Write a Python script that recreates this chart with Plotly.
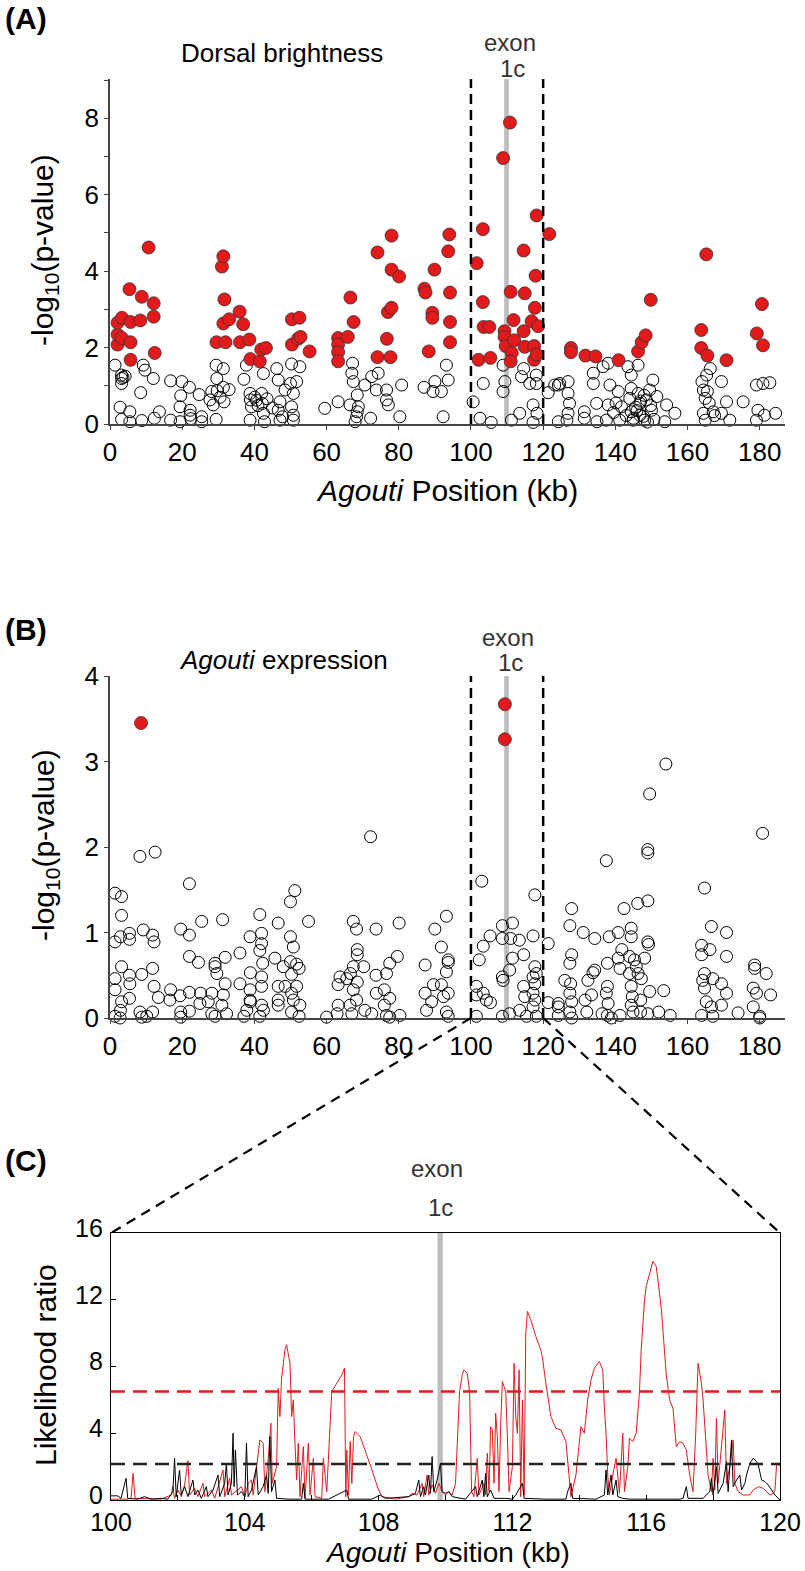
import plotly.graph_objects as go

# ---- panel A: dorsal brightness association (-log10 p) ----
a_red_x = [2.1, 2.1, 2.1, 3.3, 3.3, 5.7, 5.7, 5.4, 5.7, 8.4, 8.8, 10.7, 12.1, 12.1, 12.4,
           29.5, 31.0, 31.4, 31.7, 31.4, 32.0, 33.0, 35.9, 36.9, 36.0, 38.6, 38.9, 41.5, 41.9, 43.2,
           50.4, 50.4, 52.1, 52.5, 52.8, 55.3, 63.2, 63.2, 63.2, 63.2, 65.9, 66.6, 67.5,
           74.1, 74.1, 76.7, 77.0, 78.0, 78.0, 78.0, 77.7, 80.1, 87.1, 87.4, 89.3, 89.3, 88.3, 89.9,
           93.7, 94.0, 94.2, 94.2, 94.2, 101.6, 102.1, 103.3, 103.3, 103.5, 105.1, 105.4,
           108.9, 110.8, 109.3, 109.3, 109.6, 111.0, 111.3, 111.0, 111.8, 112.0,
           114.6, 114.9, 114.6, 114.9, 116.8, 117.5, 117.5, 117.7, 117.9, 118.2, 118.6, 118.2, 121.7,
           127.7, 127.7, 131.7, 134.5, 140.9, 146.3, 147.3, 148.4, 149.8,
           163.8, 163.8, 165.2, 165.5, 170.8, 179.2, 180.6, 180.9]
a_red_y = [2.08, 2.34, 2.65, 2.25, 2.78, 2.14, 2.67, 3.53, 1.68, 2.71, 3.33, 4.62, 3.16, 2.81, 1.86,
           2.14, 4.12, 4.39, 3.26, 2.63, 2.14, 2.74, 2.94, 2.61, 2.14, 2.21, 1.70, 1.64, 1.95, 1.99,
           2.74, 2.08, 2.23, 2.78, 2.28, 1.90, 2.25, 2.08, 1.88, 1.64, 2.28, 3.31, 2.67,
           4.49, 1.75, 2.23, 2.93, 3.04, 4.04, 4.93, 1.75, 3.86, 3.54, 3.44, 2.91, 2.78, 1.90, 4.04,
           4.52, 4.96, 3.44, 2.67, 2.14, 4.21, 1.68, 5.10, 3.19, 2.54, 2.54, 1.73,
           6.96, 7.89, 2.43, 2.28, 2.04, 3.46, 1.86, 1.64, 2.72, 2.19,
           4.54, 3.42, 2.43, 2.02, 2.69, 2.04, 1.68, 3.04, 3.88, 5.46, 2.56, 1.82, 4.97,
           1.99, 1.88, 1.79, 1.77, 1.67, 1.90, 2.14, 2.32, 3.25,
           2.46, 1.99, 4.44, 1.79, 1.67, 2.37, 3.14, 2.06]

a_open_x = [1.4, 3.2, 3.2, 3.2, 2.8, 3.2, 5.5, 5.5, 8.8, 8.5, 9.2, 9.7, 12.0, 12.3, 13.7, 16.8, 16.8,
            19.9, 19.6, 19.4, 19.4, 22.0, 22.2, 22.2, 22.4, 24.7, 25.4, 25.4, 27.7, 28.2, 28.6,
            29.4, 31.4, 29.6, 31.4, 31.6, 29.4, 29.7, 37.1, 37.8, 38.8, 38.9, 39.2, 38.8,
            42.5, 42.0, 42.2, 42.5, 42.8, 46.2, 46.6, 47.1, 46.6, 47.1, 50.3, 50.0, 50.8, 50.3, 50.8,
            52.6, 51.7, 48.5, 47.8, 50.8, 59.5, 63.2, 67.2, 67.0, 67.4, 66.5, 68.5, 68.8, 68.5, 68.3,
            67.9, 70.6, 72.5, 74.3, 73.8, 76.6, 76.6, 77.1, 72.2, 80.3, 80.8, 87.0, 89.5, 90.0,
            91.8, 93.7, 93.2, 92.3, 100.6, 102.5, 103.4, 105.6, 108.9, 109.4, 108.9, 111.2, 113.5,
            114.0, 114.6, 116.3, 117.2, 118.1, 118.1, 118.3, 117.2, 121.4, 123.2, 124.2, 124.6,
            126.9, 126.9, 127.3, 126.9, 126.6, 131.4, 133.9, 134.8, 133.9, 136.6, 138.0, 138.5,
            138.0, 137.5, 140.8, 141.2, 141.7, 143.5, 144.4, 144.4, 144.0, 144.4, 144.9, 146.3,
            146.8, 146.8, 148.1, 148.6, 149.5, 150.0, 150.4, 146.3, 154.2, 153.7, 156.5, 164.0,
            164.4, 164.9, 165.3, 166.3, 164.4, 164.9, 167.1, 169.4, 169.4, 171.7, 170.8, 175.4,
            179.1, 180.9, 182.8, 179.5, 181.3, 184.4, 179.1, 134.9, 124.2, 131.4,
            3.6, 4.2, 40.1, 40.6, 43.5, 41.0, 45.0, 148.0, 147.0, 145.6, 143.0, 149.8, 151.5,
            139.5, 140.2, 145.0, 146.0, 147.8, 148.9, 150.7, 166.0, 165.5, 167.5, 30.5, 33.0]
a_open_y = [1.54, 1.28, 1.19, 1.06, 0.44, 0.12, 0.32, 0.06, 0.09, 0.82, 1.54, 1.41, 1.19, 0.15, 0.32,
            1.13, 0.10, 1.11, 0.74, 0.45, 0.06, 0.96, 0.36, 0.23, 0.14, 0.77, 0.19, 0.06, 0.63, 0.85,
            0.50, 1.54, 1.45, 1.19, 0.96, 0.58, 0.12, 0.87, 1.17, 1.54, 0.80, 0.63, 0.45, 0.10,
            1.32, 0.80, 0.54, 0.28, 0.06, 1.45, 1.15, 0.58, 0.36, 0.10, 1.57, 1.06, 0.80, 0.45, 0.23,
            1.50, 1.11, 0.89, 0.19, 0.10, 0.41, 0.58, 1.59, 1.33, 1.11, 0.50, 0.76, 0.45, 0.32, 0.19,
            0.06, 1.02, 1.24, 1.33, 0.89, 0.89, 0.63, 0.50, 0.15, 0.19, 1.02, 0.96, 0.85, 1.11,
            0.85, 1.15, 1.54, 0.19, 0.58, 0.15, 1.06, 0.04, 1.54, 1.11, 0.85, 0.10, 0.28,
            1.24, 1.45, 1.06, 0.50, 1.28, 1.06, 0.28, 0.04, 0.82, 1.02, 1.02, 1.06,
            1.11, 0.80, 0.54, 0.28, 0.10, 0.15, 1.33, 0.54, 1.06, 1.50, 1.59, 1.02,
            0.50, 0.10, 0.85, 0.10, 0.45, 1.50, 1.28, 0.93, 0.67, 0.32, 0.10, 0.80,
            0.54, 0.23, 0.10, 0.63, 0.89, 0.36, 1.15, 1.54, 0.50, 0.06, 0.28, 1.11,
            0.89, 0.67, 1.28, 1.45, 0.28, 0.10, 0.32, 1.11, 0.28, 0.10, 0.58, 0.58,
            1.02, 1.06, 1.08, 0.36, 0.23, 0.28, 0.10, 0.06, 0.06, 0.32,
            1.22, 1.25, 0.70, 0.62, 0.66, 0.48, 0.42, 0.75, 0.60, 0.44, 0.22, 0.48, 0.72,
            0.30, 0.55, 0.15, 0.35, 0.20, 0.05, 0.12, 0.55, 0.85, 0.22, 0.70, 0.90]

# ---- panel B: Agouti expression association ----
b_red_x = [8.6, 109.4, 109.4]
b_red_y = [3.45, 3.67, 3.26]

b_open_x = [1.4, 3.2, 3.2, 1.4, 2.9, 5.4, 5.4, 3.2, 1.4, 1.4, 5.4, 5.5, 5.4, 3.2, 2.9, 1.4, 2.8,
            8.3, 12.5, 9.2, 11.8, 12.2, 11.8, 8.8, 12.2, 13.4, 8.3, 11.8, 8.8, 10.2,
            22.0, 19.6, 22.0, 22.0, 24.5, 16.8, 16.6, 19.4, 22.0, 22.0, 19.6, 19.6, 25.4, 25.1, 24.9,
            29.1, 29.1, 29.6, 28.2, 27.2, 28.2, 29.1, 31.2, 31.9, 31.9, 31.4, 31.0, 32.3,
            36.0, 36.0, 38.8, 38.9, 38.8, 38.8, 38.9, 37.9, 37.1, 41.5, 42.0, 42.0, 41.5, 42.3,
            42.0, 42.0, 42.0, 42.5, 41.5, 46.6, 45.7, 46.6, 46.6, 46.6, 48.0, 48.5, 50.0, 51.2,
            50.0, 50.8, 50.0, 51.7, 52.4, 50.3, 51.7, 50.3, 50.8, 52.6, 50.3, 52.4, 55.0, 60.0,
            72.2, 67.4, 68.3, 73.7, 80.1, 68.5, 68.5, 70.3, 67.4, 66.6, 63.7, 63.2, 65.6, 68.5,
            67.4, 68.3, 66.5, 63.2, 62.9, 67.0, 70.6, 72.5, 76.6, 77.5, 80.3, 73.7, 76.6, 77.5,
            79.6, 73.8, 76.0, 77.5, 76.0, 87.3, 87.3, 89.6, 89.1, 87.7, 90.0, 93.2, 91.8, 93.7,
            93.7, 93.2, 91.8, 93.7, 92.4, 93.2, 93.7, 101.5, 101.5, 103.4, 104.3, 105.4, 101.5,
            103.0, 102.3, 103.4, 105.3, 108.7, 111.5, 108.7, 111.0, 113.4, 111.5, 110.7, 108.7,
            108.9, 110.7, 108.7, 114.6, 114.6, 114.9, 113.5, 115.4, 117.7, 117.2, 117.7, 118.1,
            117.2, 117.7, 117.2, 117.7, 117.2, 118.1, 121.4, 121.4, 124.2,
            127.9, 127.4, 127.9, 127.4, 126.0, 127.6, 127.4, 127.9, 127.4, 124.2, 124.2, 127.9,
            131.6, 132.1, 133.4, 132.4, 133.8, 134.3, 131.1, 134.3, 137.5, 138.3, 140.8, 137.8,
            137.8, 137.5, 138.0, 137.8, 138.9, 136.3, 141.8, 140.8, 141.3, 143.9, 142.4, 146.2,
            149.0, 144.4, 144.4, 149.0, 149.2, 149.0, 149.0, 145.3, 145.8, 146.3, 147.2, 148.1,
            143.9, 144.4, 144.7, 144.4, 144.9, 147.0, 147.0, 149.0, 149.5, 153.4, 155.2, 152.0,
            141.3, 180.8, 164.7, 166.6, 170.8, 163.9, 163.9, 166.2, 170.8, 164.7, 164.2, 164.7,
            167.0, 169.4, 170.8, 165.2, 169.4, 166.6, 167.0, 163.9, 174.0, 178.6, 178.6, 181.8,
            178.2, 179.1, 183.0, 178.2, 180.0, 180.0, 154.0, 149.5]
b_open_y = [1.46, 1.42, 1.20, 0.89, 0.95, 0.99, 0.92, 0.60, 0.46, 0.33, 0.50, 0.40, 0.23, 0.19, 0.09, 0.02, 0.00,
            1.89, 1.94, 1.03, 0.97, 0.89, 0.58, 0.51, 0.37, 0.24, 0.07, 0.07, 0.01, 0.02,
            1.57, 1.04, 0.97, 0.72, 0.65, 0.33, 0.21, 0.26, 0.30, 0.08, 0.07, 0.01, 1.13, 0.29, 0.17,
            0.64, 0.60, 0.52, 0.29, 0.19, 0.05, 0.02, 1.15, 0.71, 0.40, 0.27, 0.15, 0.05,
            0.76, 0.40, 0.95, 0.53, 0.33, 0.21, 0.19, 0.09, 0.02, 1.21, 0.99, 0.87, 0.79, 0.64,
            0.48, 0.37, 0.15, 0.09, 0.02, 1.11, 0.70, 0.37, 0.21, 0.15, 0.60, 0.37, 1.36, 1.49,
            0.95, 0.83, 0.66, 0.63, 0.58, 0.51, 0.37, 0.29, 0.21, 0.15, 0.07, 0.02, 1.13, 0.01,
            2.12, 1.13, 1.04, 1.04, 1.11, 0.80, 0.74, 0.60, 0.60, 0.52, 0.48, 0.39, 0.46, 0.42,
            0.33, 0.21, 0.15, 0.15, 0.05, 0.05, 0.09, 0.05, 0.03, 0.01, 0.03, 0.50, 0.52, 0.64,
            0.72, 0.29, 0.33, 0.23, 0.15, 0.62, 0.29, 0.39, 0.19, 0.09, 1.04, 1.19, 0.83, 0.68,
            0.65, 0.54, 0.39, 0.29, 0.25, 0.07, 0.02, 0.37, 0.27, 0.29, 0.21, 0.18, 0.02,
            1.60, 0.68, 0.84, 0.96, 1.08, 1.11, 0.93, 0.93, 0.91, 0.70, 0.56, 0.48,
            0.44, 0.05, 0.02, 0.74, 0.37, 0.25, 0.09, 0.02, 1.44, 0.96, 0.60, 0.52,
            0.48, 0.40, 0.29, 0.21, 0.13, 0.02, 0.87, 0.18, 0.13,
            1.28, 1.08, 0.74, 0.64, 0.44, 0.40, 0.29, 0.19, 0.07, 0.17, 0.03, 0.00,
            0.21, 0.07, 0.27, 0.44, 0.53, 0.56, 1.00, 0.93, 1.84, 0.95, 1.00, 0.64,
            0.37, 0.29, 0.17, 0.03, 0.00, 0.05, 0.80, 0.70, 0.58, 0.72, 1.28, 1.34,
            1.37, 1.05, 0.95, 0.89, 0.86, 1.97, 1.93, 0.68, 0.60, 0.52, 0.46, 0.70,
            0.52, 0.37, 0.25, 0.15, 0.07, 0.21, 0.07, 0.05, 0.31, 0.32, 0.03, 0.07,
            0.03, 2.16, 1.52, 1.07, 1.00, 0.85, 0.74, 0.80, 0.72, 0.52, 0.44, 0.35,
            0.46, 0.40, 0.29, 0.19, 0.15, 0.13, 0.02, 0.03, 0.06, 0.62, 0.58, 0.52,
            0.35, 0.29, 0.27, 0.13, 0.02, 0.00, 2.97, 2.62]

# ---- panel C: likelihood ratio traces, 100-120 kb ----
red_x = [100.0, 100.5, 100.6, 100.66, 100.72, 101.5, 101.8, 101.85, 101.9, 102.0, 102.1, 102.2, 102.3,
         102.35, 102.5, 102.6, 102.75, 102.8, 103.0, 103.1, 103.35, 103.4, 103.55, 103.6, 103.9, 104.0,
         104.1, 104.2, 104.25, 104.45, 104.55, 104.6, 104.7, 104.78, 104.82, 104.95, 105.0, 105.05,
         105.1, 105.2, 105.25, 105.35, 105.4, 105.45, 105.5, 105.55, 105.6, 105.65, 105.75, 105.8,
         105.9, 105.95, 106.05, 106.1, 106.3, 106.35, 106.45, 106.55, 106.6, 106.75, 106.9, 106.98,
         107.02, 107.05, 107.1, 107.15, 107.2, 107.25, 107.3, 107.45, 107.6, 107.75, 107.9, 108.0,
         108.1, 108.5, 108.9, 109.0, 109.15, 109.3, 109.35, 109.45, 109.5, 109.6, 109.7, 109.8,
         109.9, 110.0, 110.1, 110.2, 110.3, 110.35, 110.42, 110.5, 110.55, 110.65, 110.72, 110.78,
         110.85, 110.95, 111.0, 111.15, 111.2, 111.25, 111.3, 111.35, 111.4, 111.45, 111.5, 111.55,
         111.6, 111.65, 111.7, 111.75, 111.8, 111.85, 111.9, 112.0, 112.05, 112.1, 112.15, 112.2,
         112.25, 112.3, 112.35, 112.4, 112.45, 112.55, 112.7, 112.85, 112.9, 113.0, 113.15, 113.3,
         113.45, 113.6, 113.7, 113.75, 113.9, 113.95, 114.05, 114.15, 114.25, 114.35, 114.45, 114.6,
         114.7, 114.75, 114.8, 114.85, 114.9, 115.0, 115.1, 115.2, 115.3, 115.35, 115.45, 115.5,
         115.6, 115.7, 115.8, 115.85, 115.95, 116.0, 116.15, 116.2, 116.3, 116.45, 116.6, 116.7,
         116.8, 116.9, 117.0, 117.1, 117.2, 117.3, 117.4, 117.48, 117.55, 117.65, 117.7, 117.8,
         117.85, 117.95, 118.0, 118.05, 118.1, 118.15, 118.25, 118.35, 118.4, 118.5, 118.6, 118.65,
         118.75, 118.9, 119.1, 119.2, 119.35, 119.5, 119.6, 119.7, 119.8, 119.85, 119.9, 120.0]
red_y = [0.05, 0.05, 0.1, 1.6, 0.1, 0.05, 0.3, 0.8, 0.1, 0.6, 0.2, 0.9, 2.35,
         0.3, 0.7, 0.2, 1.0, 0.2, 0.6, 0.1, 1.8, 0.2, 1.3, 0.3, 0.8, 0.2,
         1.0, 1.2, 0.3, 3.6, 3.4, 0.5, 2.5, 4.6, 1.0, 2.0, 6.7, 5.0,
         7.3, 9.0, 9.3, 8.2, 5.0, 6.0, 3.4, 1.2, 3.4, 0.2, 3.2, 0.1,
         3.4, 0.3, 2.5, 0.2, 0.1, 2.5, 0.5, 4.0, 6.5, 7.0, 7.5, 7.9,
         0.2, 3.0, 0.3, 3.5, 1.0, 3.8, 4.1, 3.8, 3.0, 2.1, 1.2, 0.6,
         0.2, 0.05, 0.2, 0.4, 0.3, 1.0, 0.2, 1.5, 0.3, 0.9, 0.4, 1.0,
         0.5, 0.3, 0.5, 0.3, 1.0, 3.0, 6.5, 7.5, 7.8, 7.6, 6.5, 0.5,
         0.2, 2.5, 0.3, 1.0, 0.3, 2.8, 0.5, 4.4, 4.2, 1.0, 5.2, 3.8,
         0.5, 4.6, 7.1, 6.8, 6.5, 3.8, 0.5, 2.0, 8.2, 5.0, 4.0, 7.8,
         0.2, 6.0, 0.3, 10.0, 11.3, 10.8, 9.8, 9.0, 8.5, 7.0, 5.0, 4.3,
         4.2, 3.5, 1.2, 0.2, 1.5, 2.5, 4.4, 4.0, 6.0, 7.2, 7.9, 8.3,
         7.8, 5.5, 4.0, 1.5, 0.3, 1.5, 2.5, 0.4, 4.0, 0.5, 2.0, 3.7,
         3.5, 4.0, 6.5, 9.0, 12.0, 12.8, 14.0, 14.3, 14.0, 11.5, 7.5, 6.0,
         5.5, 3.2, 3.5, 3.4, 3.0, 1.5, 0.5, 4.0, 8.2, 7.0, 6.0, 3.0,
         1.5, 0.5, 2.5, 0.6, 4.9, 1.0, 3.0, 5.4, 1.0, 2.0, 3.6, 1.0,
         0.5, 0.3, 0.3, 0.6, 0.8, 0.7, 0.5, 0.3, 0.4, 0.6, 2.2, 2.0]

black_x = [100.0, 100.2, 100.3, 100.45, 100.5, 100.8, 101.0, 101.2, 101.5, 101.7, 101.85, 101.9, 101.95,
           102.05, 102.1, 102.2, 102.3, 102.45, 102.5, 102.6, 102.7, 102.85, 102.9, 103.05, 103.2,
           103.25, 103.4, 103.45, 103.5, 103.6, 103.65, 103.68, 103.72, 103.78, 103.9, 104.0, 104.05,
           104.1, 104.2, 104.35, 104.4, 104.55, 104.65, 104.7, 104.75, 104.8, 104.9, 104.95, 105.3,
           105.7, 105.75, 105.8, 106.5, 107.05, 107.1, 107.8, 108.05, 108.2, 108.9, 109.1, 109.2,
           109.25, 109.35, 109.4, 109.5, 109.55, 109.6, 109.65, 109.75, 109.85, 109.9, 110.0, 110.1,
           110.2, 110.6, 110.9, 110.95, 111.1, 111.15, 111.2, 111.25, 111.35, 111.45, 111.8, 112.0,
           112.1, 112.3, 112.35, 113.0, 113.6, 113.65, 113.75, 113.8, 114.5, 114.75, 114.8, 114.85,
           114.95, 115.0, 115.1, 115.15, 115.3, 115.5, 117.0, 117.1, 117.2, 117.25, 117.7, 117.9,
           117.95, 118.0, 118.1, 118.15, 118.3, 118.4, 118.45, 118.55, 118.6, 118.7, 118.8, 118.85,
           118.95, 119.0, 119.1, 119.2, 119.3, 119.35, 119.45, 119.55, 119.65, 119.75, 119.85, 120.0]
black_y = [0.25, 0.25, 0.1, 1.3, 0.1, 0.05, 0.2, 0.05, 0.1, 0.05, 0.5, 2.5, 0.2,
           1.8, 0.3, 0.8, 0.2, 1.2, 0.3, 0.6, 0.1, 0.8, 0.2, 0.6, 1.5,
           0.2, 1.0, 2.2, 0.3, 1.0, 4.0, 0.8, 3.0, 0.3, 0.5, 0.2, 3.4,
           0.2, 0.6, 2.0, 0.3, 0.8, 1.5, 0.4, 3.8, 0.5, 1.2, 0.1, 0.05,
           0.05, 1.0, 0.05, 0.05, 0.6, 0.05, 0.05, 0.3, 0.1, 0.2, 0.4, 1.2,
           0.2, 0.8, 0.3, 1.5, 0.4, 2.6, 0.5, 1.2, 2.2, 0.5, 0.4, 0.5,
           0.2, 0.05, 0.8, 0.2, 1.2, 0.2, 1.6, 0.2, 0.6, 0.1, 0.1, 0.05,
           0.3, 1.0, 0.1, 0.05, 0.05, 0.5, 1.0, 0.1, 0.05, 0.3, 1.8, 0.3,
           1.5, 0.3, 1.2, 0.2, 0.1, 0.05, 0.05, 0.1, 0.8, 0.1, 0.1, 0.5,
           1.3, 0.3, 2.0, 0.4, 1.0, 2.3, 0.5, 3.6, 0.8, 1.2, 1.5, 0.6,
           1.0, 1.5, 2.2, 2.5, 2.3, 2.1, 1.2, 1.1, 0.9, 0.6, 0.3, 0.0]

red_threshold = 6.5
black_threshold = 2.15

W, H = 805, 1571
FONT = "Liberation Sans, Arial, sans-serif"
RED = "#e31a1c"


def px(x, y):
    return x / W, 1 - y / H


# plot areas in pixels (left, right, top, bottom)
A_box = (110, 785, 79, 424)
B_box = (110, 785, 676, 1018)
C_box = (111, 780, 1233, 1500)
XMAX = 187

fig = go.Figure()

open_marker = dict(symbol="circle-open", size=12, color="black", line=dict(width=1, color="black"))
red_marker = dict(symbol="circle", size=13, color=RED, line=dict(width=0.8, color="#333333"))

fig.add_trace(go.Scatter(x=a_open_x, y=a_open_y, mode="markers", marker=open_marker,
                         xaxis="x", yaxis="y", cliponaxis=False, showlegend=False))
fig.add_trace(go.Scatter(x=a_red_x, y=a_red_y, mode="markers", marker=red_marker,
                         xaxis="x", yaxis="y", cliponaxis=False, showlegend=False))
fig.add_trace(go.Scatter(x=b_open_x, y=b_open_y, mode="markers", marker=open_marker,
                         xaxis="x2", yaxis="y2", cliponaxis=False, showlegend=False))
fig.add_trace(go.Scatter(x=b_red_x, y=b_red_y, mode="markers", marker=red_marker,
                         xaxis="x2", yaxis="y2", cliponaxis=False, showlegend=False))
fig.add_trace(go.Scatter(x=red_x, y=red_y, mode="lines", line=dict(color=RED, width=1),
                         xaxis="x3", yaxis="y3", showlegend=False))
fig.add_trace(go.Scatter(x=black_x, y=black_y, mode="lines", line=dict(color="black", width=1),
                         xaxis="x3", yaxis="y3", showlegend=False))


def dom(box):
    l, r, t, b = box
    return [l / W, r / W], [1 - b / H, 1 - t / H]


tickfont = dict(family=FONT, size=26, color="black")
tickfont_c = dict(family=FONT, size=25, color="black")
axcommon = dict(showgrid=False, zeroline=False, showline=True, linecolor="#444444", linewidth=1.5,
                ticks="outside", ticklen=4, tickcolor="#444444", tickfont=tickfont, automargin=False)

xa, ya = dom(A_box)
xb, yb = dom(B_box)
xc, yc = dom(C_box)
xt = list(range(0, 181, 20))

fig.update_layout(
    template="none",
    xaxis=dict(domain=xa, range=[0, XMAX], anchor="y", tickvals=xt, **axcommon),
    yaxis=dict(domain=ya, range=[0, 9.03], anchor="x", tickvals=list(range(0, 10)),
               ticktext=[str(v) if v % 2 == 0 else " " for v in range(0, 10)], **axcommon),
    xaxis2=dict(domain=xb, range=[0, XMAX], anchor="y2", tickvals=xt, **axcommon),
    yaxis2=dict(domain=yb, range=[0, 4.0], anchor="x2", tickvals=[0, 1, 2, 3, 4], **axcommon),
    xaxis3=dict(domain=xc, range=[100, 120], anchor="y3", showgrid=False, zeroline=False,
                showline=True, mirror=True, linecolor="black", linewidth=1.2, automargin=False,
                ticks="inside", ticklen=5, tickcolor="black", tickfont=tickfont_c,
                tickvals=list(range(100, 121, 2)),
                ticktext=[str(v) if v % 4 == 0 else " " for v in range(100, 121, 2)]),
    yaxis3=dict(domain=yc, range=[0, 16], anchor="x3", showgrid=False, zeroline=False,
                showline=True, mirror=True, linecolor="black", linewidth=1.2, automargin=False,
                ticks="inside", ticklen=5, tickcolor="black", tickfont=tickfont_c,
                ticklabelshift=-5, ticklabelstandoff=2,
                tickvals=[0, 4, 8, 12, 16]),
    width=W, height=H, margin=dict(l=0, r=0, t=0, b=0, autoexpand=False),
    paper_bgcolor="white", plot_bgcolor="white",
)

shapes = []
# exon 1c band and 100/120 kb window in panels A and B
for xr, yr, top in (("x", "y", 9.03), ("x2", "y2", 4.0)):
    shapes.append(dict(type="rect", xref=xr, yref=yr, x0=109.2, x1=110.5, y0=0, y1=top, opacity=1,
                       fillcolor="#bdbdbd", line=dict(width=0), layer="below"))
    for xv in (100, 120):
        shapes.append(dict(type="line", xref=xr, yref=yr, x0=xv, x1=xv, y0=0, y1=top, opacity=1,
                           line=dict(color="black", width=2.5, dash="10px,6px")))
# panel C exon band and thresholds
shapes.append(dict(type="rect", xref="x3", yref="y3", x0=109.76, x1=109.92, y0=-0.15, y1=16.1, opacity=1,
                   fillcolor="#bdbdbd", line=dict(width=0), layer="below"))
shapes.append(dict(type="line", xref="x3", yref="y3", x0=100, x1=120, y0=red_threshold, y1=red_threshold,
                   opacity=1, line=dict(color=RED, width=2.5, dash="14px,8px")))
shapes.append(dict(type="line", xref="x3", yref="y3", x0=100, x1=120, y0=black_threshold, y1=black_threshold,
                   opacity=1, line=dict(color="#222222", width=2.5, dash="14px,8px")))
# zoom lines from panel B window to panel C
bx0 = xb[0] + (xb[1] - xb[0]) * 100 / XMAX
bx1 = xb[0] + (xb[1] - xb[0]) * 120 / XMAX
shapes.append(dict(type="line", xref="paper", yref="paper", x0=bx0, y0=yb[0], x1=xc[0], y1=yc[1],
                   opacity=1, line=dict(color="black", width=2.2, dash="10px,7px")))
shapes.append(dict(type="line", xref="paper", yref="paper", x0=bx1, y0=yb[0], x1=xc[1], y1=yc[1],
                   opacity=1, line=dict(color="black", width=2.2, dash="10px,7px")))
fig.update_layout(shapes=shapes)


def note(text, x, y, size, color="black", angle=0, bold=False):
    xp, yp = px(x, y)
    if bold:
        text = "<b>" + text + "</b>"
    return dict(text=text, x=xp, y=yp, xref="paper", yref="paper", showarrow=False,
                xanchor="center", yanchor="middle", textangle=angle,
                font=dict(family=FONT, size=size, color=color))


ann = [
    note("(A)", 26, 18, 30, bold=True),
    note("(B)", 26, 630, 30, bold=True),
    note("(C)", 26, 1160, 30, bold=True),
    note("Dorsal brightness", 282, 53, 26),
    note("<i>Agouti</i> expression", 283, 660, 26),
    note("exon", 510, 42, 24, "#333333"),
    note("1c", 512, 68, 24, "#333333"),
    note("exon", 508, 637, 24, "#333333"),
    note("1c", 510, 663, 24, "#333333"),
    note("exon", 437, 1168, 24, "#333333"),
    note("1c", 440, 1207, 24, "#333333"),
    note("-log<sub>10</sub>(p-value)", 45, 250, 30, angle=-90),
    note("-log<sub>10</sub>(p-value)", 45, 845, 30, angle=-90),
    note("Likelihood ratio", 45, 1365, 30, angle=-90),
    note("<i>Agouti</i> Position (kb)", 447, 490, 30),
    note("<i>Agouti</i> Position (kb)", 447, 1552, 28),
]
fig.update_layout(annotations=ann)

# page body has a default 8px margin; drop it so the figure sits at the window origin
fig.write_html("out.html", config={"displayModeBar": False},
               post_script="document.body.style.margin='0px';")
